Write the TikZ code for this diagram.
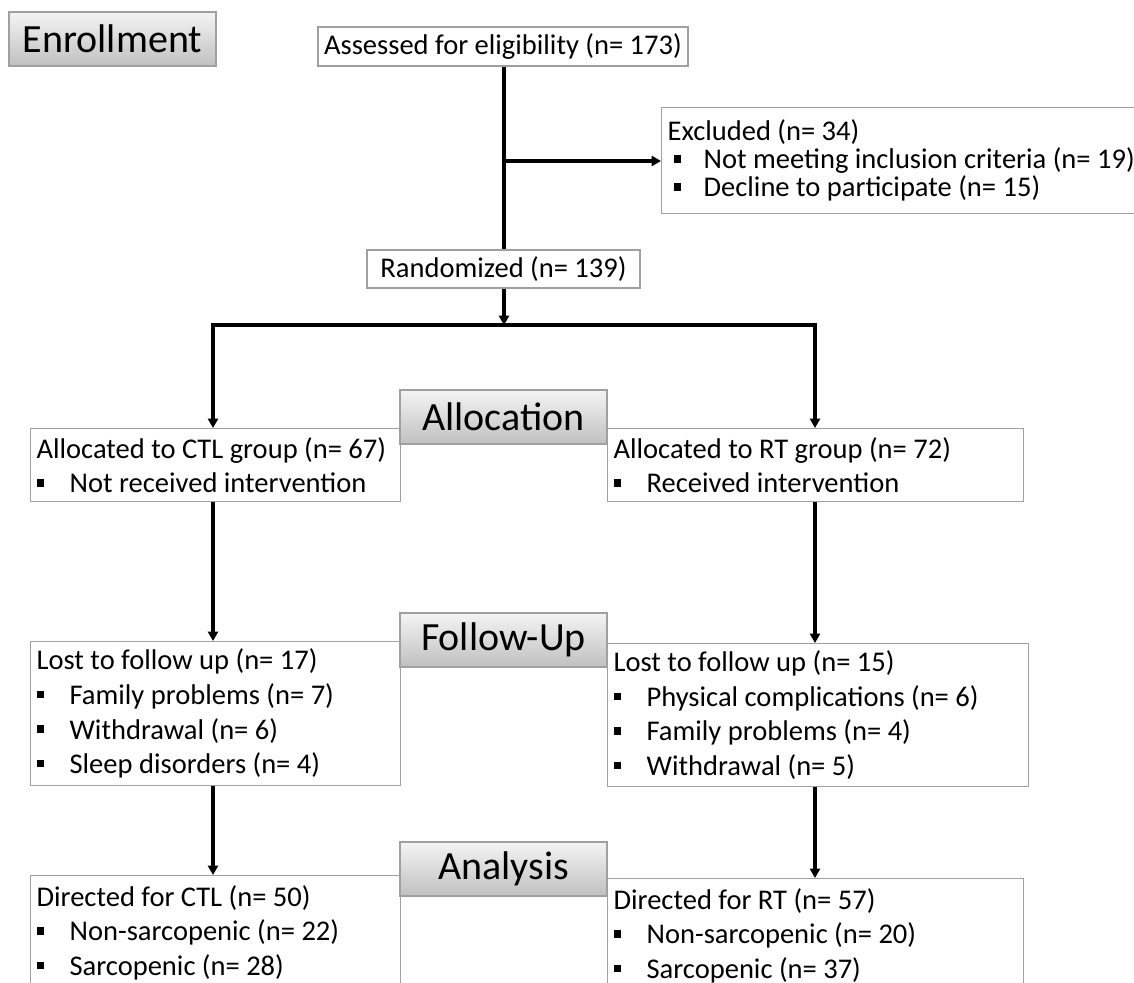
\documentclass[tikz,border=0pt]{standalone}
\usepackage{fontspec}
\setmainfont{Carlito}
\usetikzlibrary{arrows.meta,calc}
\definecolor{boxline}{RGB}{160,160,160}
\definecolor{gtop}{RGB}{244,244,244}
\definecolor{gbot}{RGB}{192,192,192}
\newcommand\bitem[1]{\makebox[24.75pt][l]{\rule[4.6pt]{5.6pt}{5.6pt}}#1}
\newcommand\xitem[1]{\hspace*{4.5pt}\makebox[22.5pt][l]{\rule[4.6pt]{5.6pt}{5.6pt}}#1}
\begin{document}
\begin{tikzpicture}[x=0.75pt,y=-0.75pt,
  every node/.style={font=\fontsize{21.4pt}{25.9pt}\selectfont, text=black},
  box/.style={draw=boxline, line width=0.9pt, fill=white, align=left,
    inner xsep=4.5pt, inner ysep=0pt, anchor=north west,
    execute at begin node={\spaceskip=0pt\xspaceskip=0pt}},
  cbox/.style={draw=boxline, line width=0.9pt, fill=white, align=center,
    inner xsep=4.5pt, inner ysep=0pt},
  phase/.style={draw=boxline, line width=0.9pt, top color=gtop, bottom color=gbot,
    minimum width=207*0.75pt, minimum height=54*0.75pt, inner sep=0pt,
    font=\fontsize{30pt}{36pt}\selectfont},
  conn/.style={line width=2.3pt, draw=black},
  arr/.style={conn, -{Triangle[length=7pt,width=7.5pt]}}
]
\useasboundingbox (0,0) rectangle (1134,982);
\clip (0,0) rectangle (1134,982);

% phase label Enrollment
\node[phase] (enroll) at (112.5,39) {Enrollment};

% boxes
\node[cbox, minimum width=370*0.75pt, minimum height=39*0.75pt] (assess) at (503,46.5)
  {Assessed for eligibility (n= 173)};
\node[box, minimum width=500*0.75pt, minimum height=106*0.75pt, text width=488*0.75pt,
  font=\fontsize{21.4pt}{21pt}\selectfont] (excl) at (661,107)
  {Excluded (n= 34)\\ \xitem{Not meeting inclusion criteria (n= 19)}\\ \xitem{Decline to participate (n= 15)}};
\node[cbox, minimum width=273*0.75pt, minimum height=38*0.75pt] (rand) at (503.5,269)
  {Randomized (n= 139)};

\node[box, minimum width=370*0.75pt, minimum height=73*0.75pt, text width=358*0.75pt] (allocL) at (30,428)
  {Allocated to CTL group (n= 67)\\ \bitem{Not received intervention}};
\node[box, minimum width=416*0.75pt, minimum height=73*0.75pt, text width=404*0.75pt] (allocR) at (607,428)
  {Allocated to RT group (n= 72)\\ \bitem{Received intervention}};

\node[box, minimum width=370*0.75pt, minimum height=144*0.75pt, text width=358*0.75pt] (lostL) at (30,641)
  {Lost to follow up (n= 17)\\ \bitem{Family problems (n= 7)}\\ \bitem{Withdrawal (n= 6)}\\ \bitem{Sleep disorders (n= 4)}};
\node[box, minimum width=421*0.75pt, minimum height=143*0.75pt, text width=409*0.75pt] (lostR) at (607,643)
  {Lost to follow up (n= 15)\\ \bitem{Physical complications (n= 6)}\\ \bitem{Family problems (n= 4)}\\ \bitem{Withdrawal (n= 5)}};

\node[box, minimum width=370*0.75pt, minimum height=114*0.75pt, text width=358*0.75pt] (anaL) at (30,875)
  {Directed for CTL (n= 50)\\ \bitem{Non-sarcopenic (n= 22)}\\ \bitem{Sarcopenic (n= 28)}};
\node[box, minimum width=416*0.75pt, minimum height=114*0.75pt, text width=404*0.75pt] (anaR) at (607,878)
  {Directed for RT (n= 57)\\ \bitem{Non-sarcopenic (n= 20)}\\ \bitem{Sarcopenic (n= 37)}};

% phase labels over boxes
\node[phase] (allocation) at (503.5,417) {Allocation};
\node[phase] (followup) at (503.5,640) {Follow-Up};
\node[phase] (analysis) at (503.5,869) {Analysis};

% connectors
\coordinate (b1) at (504,161);
\coordinate (split) at (504,325);
\coordinate (sl) at (213,325);
\coordinate (sr) at (815,325);

\draw[conn] (assess.south -| b1) -- (rand.north -| b1);
\draw[arr] (b1) -- (b1 -| excl.west);
\draw[arr] (rand.south -| split) -- (split);
\draw[conn] ([xshift=-1.15pt]sl) -- ([xshift=1.15pt]sr);
\draw[arr] (sl) -- (sl |- allocL.north);
\draw[arr] (sr) -- (sr |- allocR.north);
\draw[arr] (allocL.south -| sl) -- (lostL.north -| sl);
\draw[arr] (allocR.south -| sr) -- (lostR.north -| sr);
\draw[arr] (lostL.south -| sl) -- (anaL.north -| sl);
\draw[arr] (lostR.south -| sr) -- (anaR.north -| sr);
\end{tikzpicture}
\end{document}
